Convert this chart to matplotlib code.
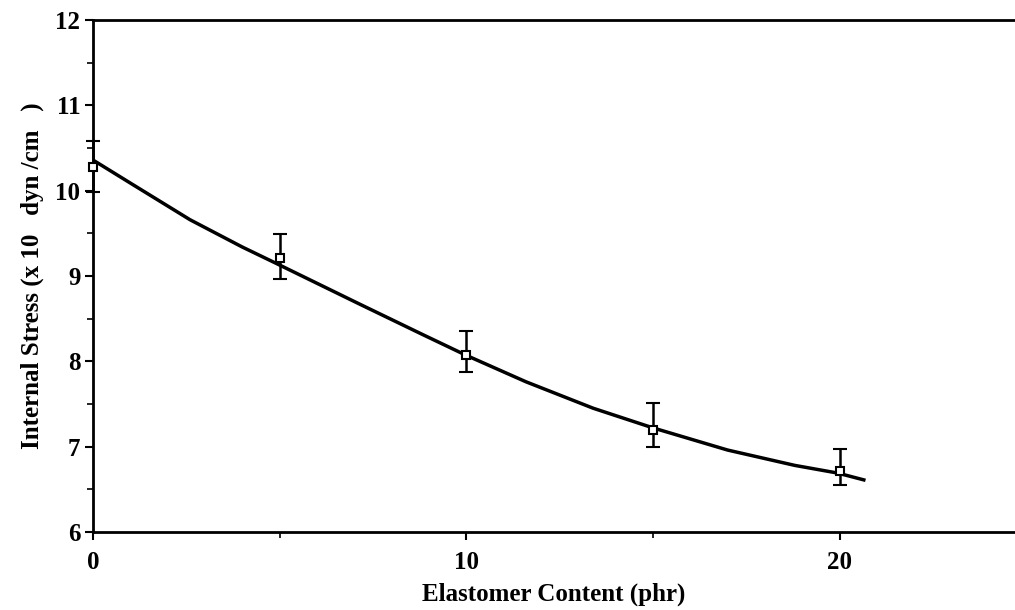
import numpy as np
import matplotlib.pyplot as plt
from matplotlib.ticker import MultipleLocator

# measured points
phr = [0, 5, 10, 15, 20]
stress = [10.28, 9.21, 8.07, 7.19, 6.71]
err_lo = [0.30, 0.25, 0.19, 0.19, 0.16]
err_hi = [0.30, 0.28, 0.28, 0.32, 0.26]

# fitted curve
fit_x = [0, 1.0, 2.6, 4.0, 4.9, 7.1, 8.85, 10.0, 11.6, 13.4, 15.0, 17.0, 18.8, 19.95, 20.65]
fit_y = [10.36, 10.09, 9.66, 9.34, 9.15, 8.68, 8.31, 8.07, 7.76, 7.45, 7.22, 6.96, 6.78, 6.69, 6.61]

plt.rcParams['font.family'] = ['Liberation Serif', 'DejaVu Serif']
plt.rcParams['font.weight'] = 'bold'

fig = plt.figure(figsize=(10.15, 6.1), dpi=100)
ax = fig.add_axes([0.0916, 0.128, 0.9084, 0.839])

ax.plot(fit_x, fit_y, color='black', linewidth=2.5, zorder=2)
ax.errorbar(phr, stress, yerr=[err_lo, err_hi], fmt='s', mfc='white', mec='black',
            mew=1.5, ms=6, ecolor='black', elinewidth=1.8, capsize=5, capthick=1.8,
            zorder=3, clip_on=False)

ax.set_xlim(0, 24.7)
ax.set_ylim(6, 12)
ax.xaxis.set_major_locator(MultipleLocator(10))
ax.xaxis.set_minor_locator(MultipleLocator(5))
ax.yaxis.set_major_locator(MultipleLocator(1))
ax.yaxis.set_minor_locator(MultipleLocator(0.5))

ax.spines['right'].set_visible(False)
for s in ['left', 'bottom', 'top']:
    ax.spines[s].set_linewidth(2)

ax.tick_params(which='major', length=6, width=1.5, labelsize=18, direction='out')
ax.tick_params(which='minor', length=4, width=1.2, direction='out')
ax.tick_params(axis='x', pad=8)
ax.tick_params(axis='y', pad=3)

ax.set_xlabel('Elastomer Content (phr)', fontsize=18, fontweight='bold', labelpad=6)
ax.set_ylabel('Internal Stress (x 10   dyn /cm   )', fontsize=18, fontweight='bold', labelpad=8)

fig.savefig('out.png', dpi=100)
